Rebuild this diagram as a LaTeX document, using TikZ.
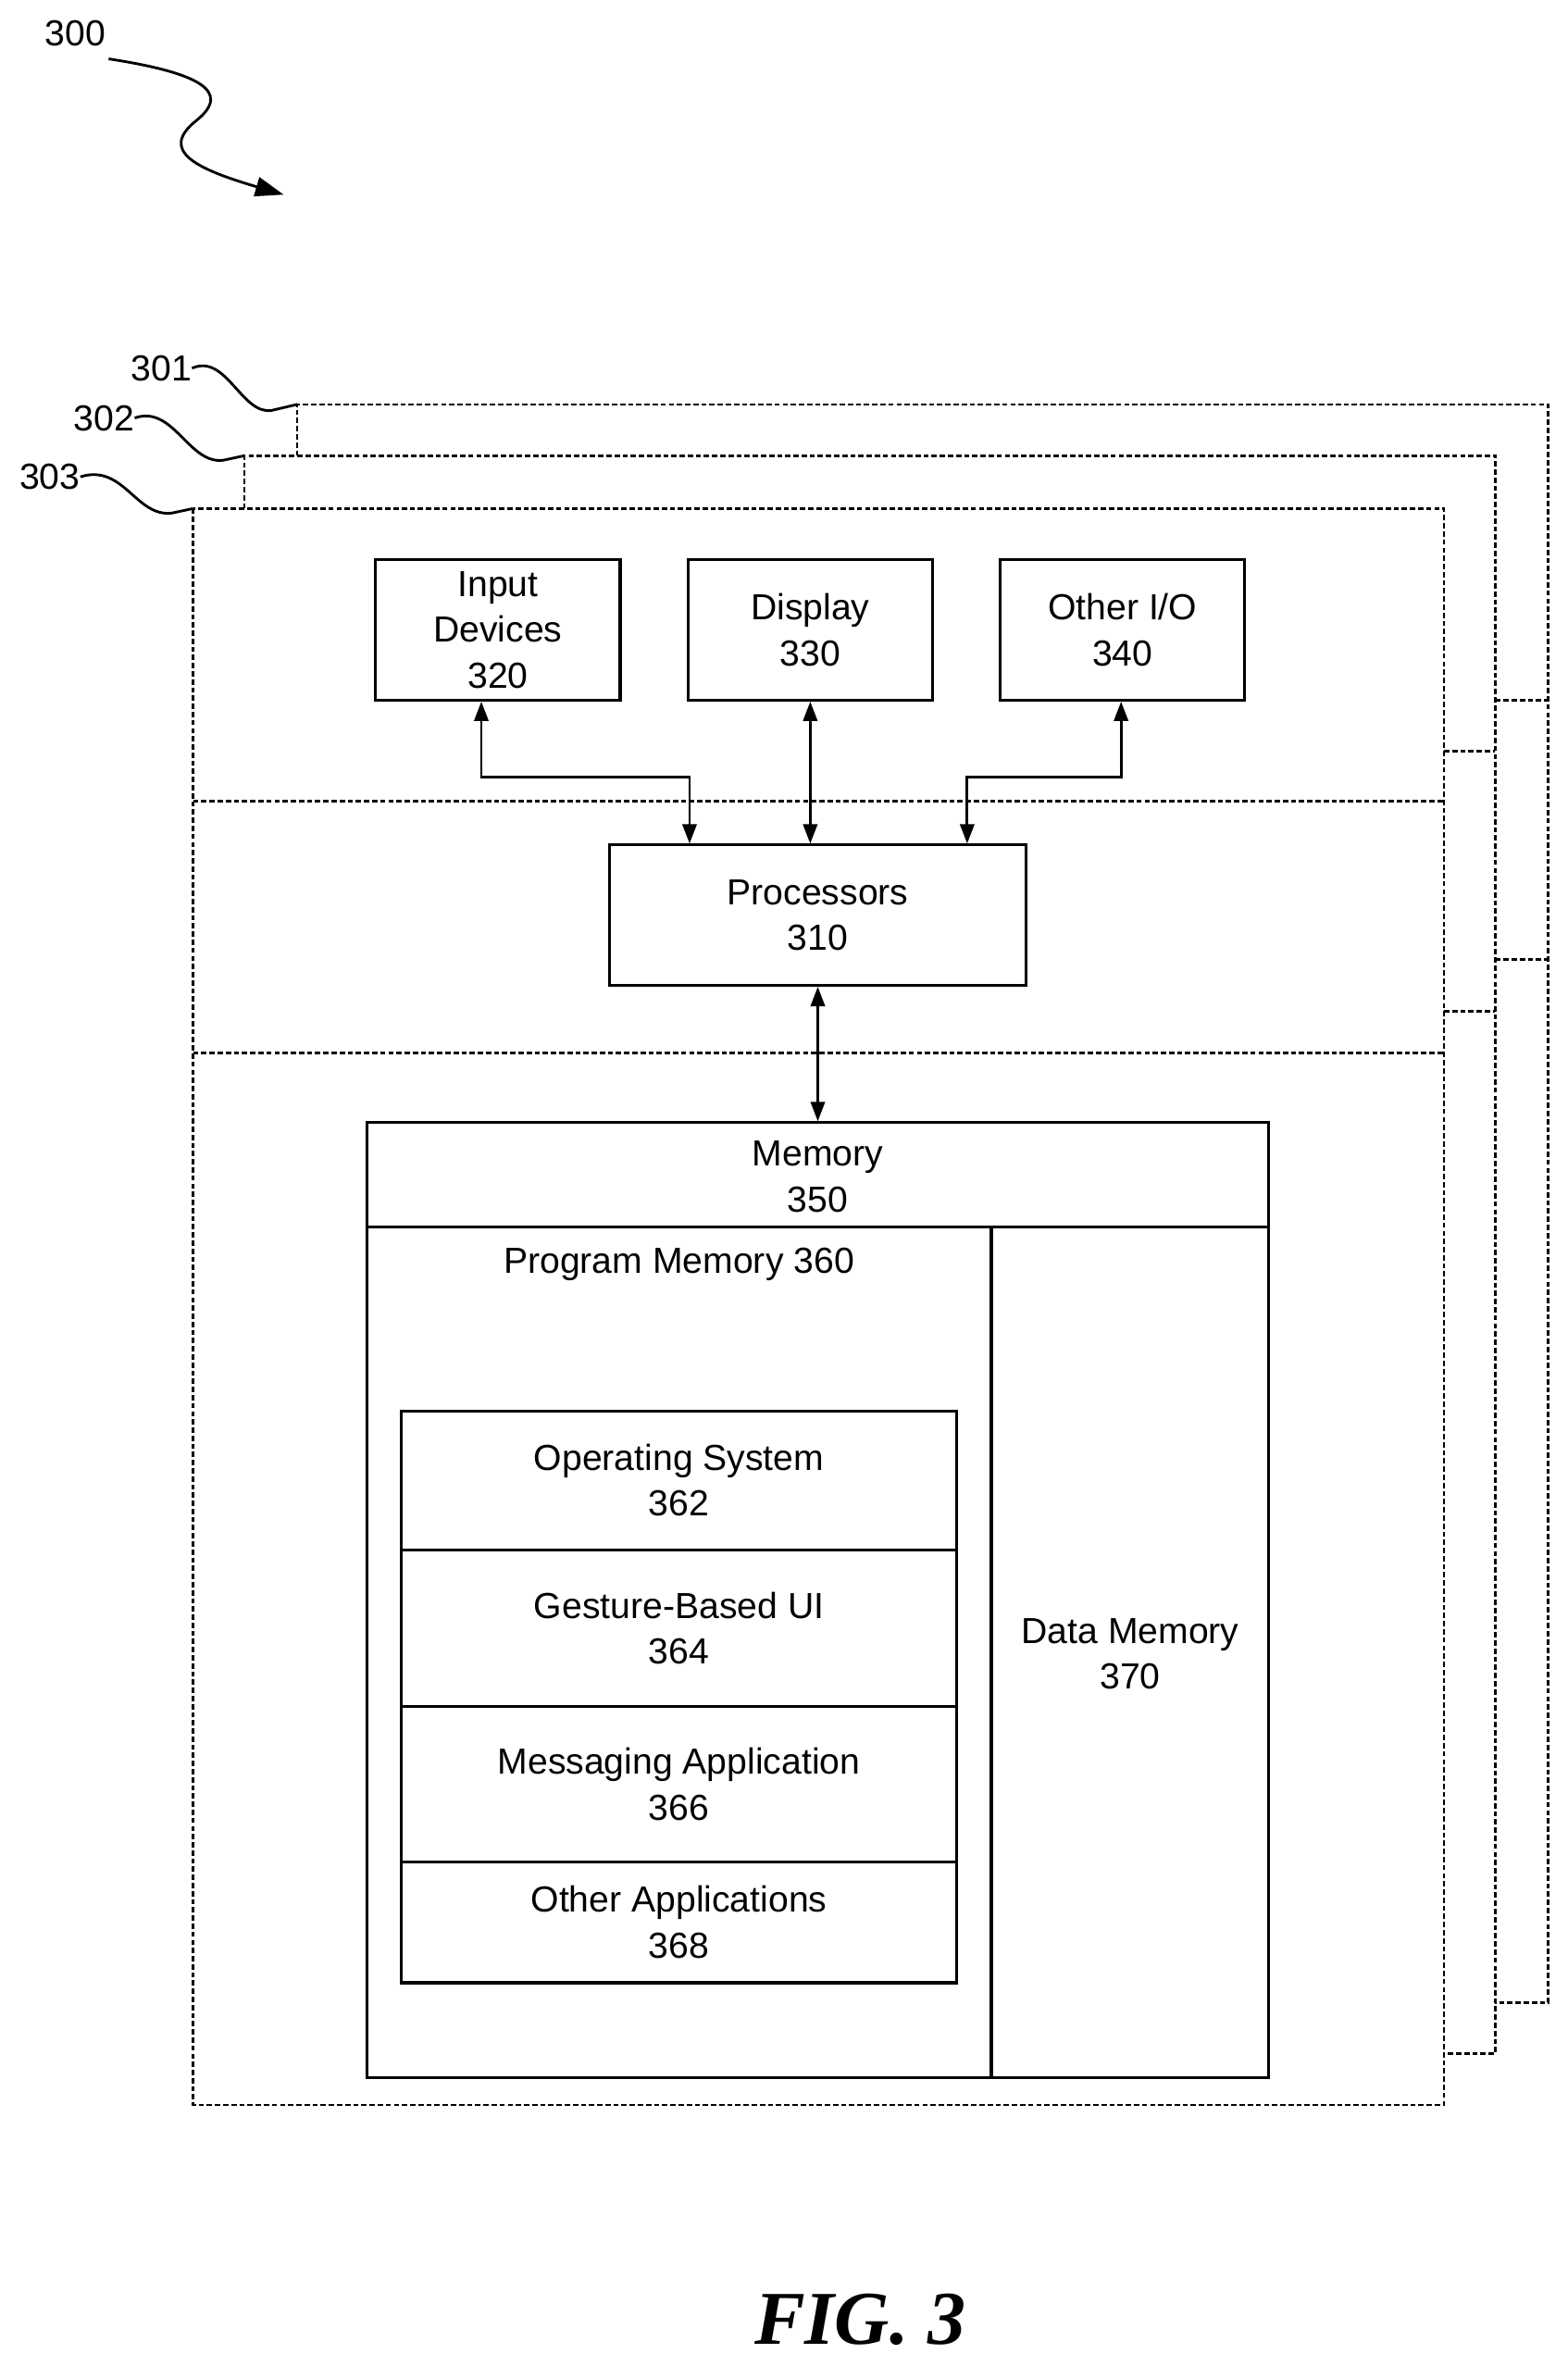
\documentclass[tikz,border=0pt]{standalone}
\usepackage{fontspec}
\setmainfont{Liberation Sans}
\newfontfamily\figfont{Liberation Serif}
\usetikzlibrary{arrows.meta}
\begin{document}
\begin{tikzpicture}[x=0.03cm,y=-0.03cm,
  txt/.style={font=\fontsize{20.5}{26}\selectfont,align=center,inner sep=0},
  box/.style={draw,line width=1.6pt},
  dsh/.style={line width=1.4pt,dash pattern=on 3pt off 1.6pt},
  lead/.style={line width=1.5pt},
  arr/.style={line width=1.5pt,{Triangle[length=11pt,width=8pt]}-{Triangle[length=11pt,width=8pt]}}]
\useasboundingbox (0,0) rectangle (1039,1568);
% frames
\draw[dsh] (197,302) -- (197,268) -- (1026,268) -- (1026,1327) -- (991,1327);
\draw[dsh] (991,464) -- (1026,464) (991,636) -- (1026,636);
\draw[dsh] (162,337) -- (162,302) -- (991,302) -- (991,1361) -- (957,1361);
\draw[dsh] (957,498) -- (991,498) (957,670) -- (991,670);
\draw[dsh] (128,337) rectangle (957,1395);
\draw[dsh] (128,531) -- (957,531) (128,698) -- (957,698);
% labels
\node[txt] (l300) at (50,22) {300};
\node[txt] (l301) at (107,244) {301};
\node[txt] (l302) at (69,277) {302};
\node[txt] (l303) at (33,316) {303};
\coordinate (c301) at (197,268);
\coordinate (c302) at (162,302);
\coordinate (c303) at (128,337);
\coordinate (a300) at (188,129);
\draw[lead] (l301.east) .. controls (150,234) and (160,275) .. (180,272) -- (c301);
\draw[lead] (l302.east) .. controls (115,268) and (125,308) .. (148,305) -- (c302);
\draw[lead] (l303.east) .. controls (82,307) and (90,343) .. (114,340) -- (c303);
\draw[lead,-{Triangle[length=16pt,width=11pt]}] (72,39) .. controls (130,48) and (155,60) .. (130,80) .. controls (105,100) and (130,112) .. (a300);
% boxes
\node[box,minimum width=162*0.03cm,minimum height=93*0.03cm] (in) at (330,417.5) {};
\node[txt] at (in) {Input\\Devices\\320};
\node[box,minimum width=162*0.03cm,minimum height=93*0.03cm] (disp) at (537,417.5) {};
\node[txt] at (disp) {Display\\330};
\node[box,minimum width=162*0.03cm,minimum height=93*0.03cm] (oth) at (744,417.5) {};
\node[txt] at (oth) {Other I/O\\340};
\node[box,minimum width=276*0.03cm,minimum height=93*0.03cm] (proc) at (542,606.5) {};
\node[txt] at (proc) {Processors\\310};
\node[box,minimum width=598*0.03cm,minimum height=633*0.03cm] (mem) at (542,1060.5) {};
\draw[box] (243,813) -- (841,813) (657,813) -- (657,1377);
\node[txt] (memt) at (542,780) {Memory\\350};
\node[txt] (pm) at (450,838) {Program Memory 360};
\node[txt] (dm) at (749,1096) {Data Memory\\370};
\node[box,minimum width=368*0.03cm,minimum height=92*0.03cm] (os) at (450,981) {};
\node[txt] at (os) {Operating System\\362};
\node[box,minimum width=368*0.03cm,minimum height=104*0.03cm] (gui) at (450,1079) {};
\node[txt] at (gui) {Gesture-Based UI\\364};
\node[box,minimum width=368*0.03cm,minimum height=103*0.03cm] (msg) at (450,1182.5) {};
\node[txt] at (msg) {Messaging Application\\366};
\node[box,minimum width=368*0.03cm,minimum height=80*0.03cm] (oa) at (450,1274) {};
\node[txt] at (oa) {Other Applications\\368};
% arrows
\draw[arr] (in.south -| 319,0) -- (319,515) -- (457,515) -- (proc.north -| 457,0);
\draw[arr] (disp.south) -- (proc.north -| disp.south);
\draw[arr] (oth.south -| 743,0) -- (743,515) -- (641,515) -- (proc.north -| 641,0);
\draw[arr] (proc.south) -- (mem.north);
\node[font=\figfont\bfseries\itshape\fontsize{43}{50}\selectfont,inner sep=0] (fig) at (570,1537) {FIG. 3};
\end{tikzpicture}
\end{document}
